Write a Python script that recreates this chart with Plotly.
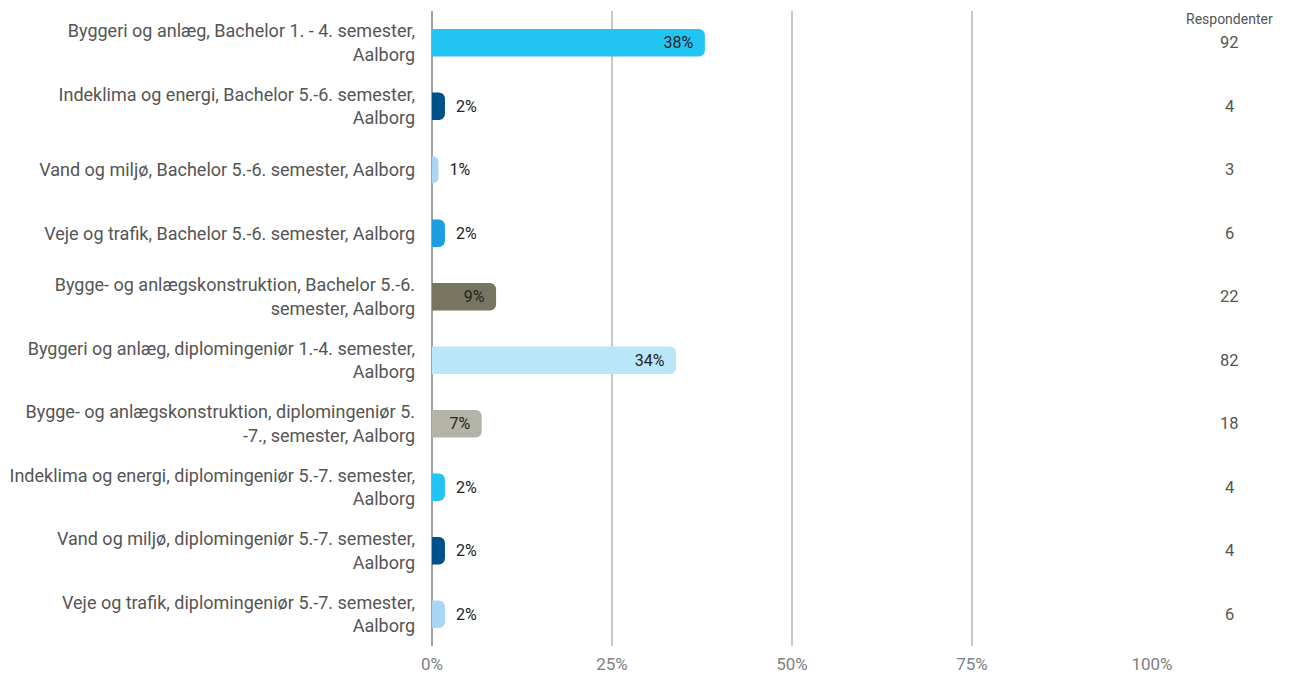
import plotly.graph_objects as go

categories = [
    "Byggeri og anlæg, Bachelor 1. - 4. semester,<br>Aalborg",
    "Indeklima og energi, Bachelor 5.-6. semester,<br>Aalborg",
    "Vand og miljø, Bachelor 5.-6. semester, Aalborg",
    "Veje og trafik, Bachelor 5.-6. semester, Aalborg",
    "Bygge- og anlægskonstruktion, Bachelor 5.-6.<br>semester, Aalborg",
    "Byggeri og anlæg, diplomingeniør 1.-4. semester,<br>Aalborg",
    "Bygge- og anlægskonstruktion, diplomingeniør 5.<br>-7., semester, Aalborg",
    "Indeklima og energi, diplomingeniør 5.-7. semester,<br>Aalborg",
    "Vand og miljø, diplomingeniør 5.-7. semester,<br>Aalborg",
    "Veje og trafik, diplomingeniør 5.-7. semester,<br>Aalborg",
]
values = [37.9, 1.8, 0.9, 1.8, 8.9, 33.9, 6.9, 1.8, 1.8, 1.8]
labels = ["38%", "2%", "1%", "2%", "9%", "34%", "7%", "2%", "2%", "2%"]
respondents = [92, 4, 3, 6, 22, 82, 18, 4, 4, 6]
colors = ["#22C4F4", "#00508A", "#AAD6F6", "#1AA0E2", "#77745F",
          "#BAE6FA", "#B4B4A6", "#22C4F4", "#00508A", "#AAD6F6"]
x_ticks = [0, 25, 50, 75, 100]
x_tick_labels = ["0%", "25%", "50%", "75%", "100%"]

NB = "\u00a0"
inside = [v >= 5 for v in values]
positions = ["inside" if i else "outside" for i in inside]
shown = [(t + NB * 2) if i else (NB * 2 + t) for t, i in zip(labels, inside)]

fig = go.Figure()
fig.add_trace(go.Bar(
    y=categories, x=values, orientation="h",
    marker=dict(color=colors, line=dict(width=0)),
    text=shown, textposition=positions, insidetextanchor="end",
    textfont=dict(family="Roboto", size=16, color="#222222"),
    outsidetextfont=dict(family="Roboto", size=16, color="#222222"),
    insidetextfont=dict(family="Roboto", size=16, color="#222222"),
    width=0.43, cliponaxis=False, hoverinfo="skip",
))

for cat, r in zip(categories, respondents):
    fig.add_annotation(x=1.108, xref="paper", y=cat, yref="y", text=str(r),
                       showarrow=False, xanchor="center",
                       font=dict(family="Roboto", size=16.5, color="#555555"))
fig.add_annotation(x=1.108, xref="paper", y=1.0, yref="paper", yshift=2,
                   text="Respondenter", showarrow=False, xanchor="center", yanchor="top",
                   font=dict(family="Roboto", size=14, color="#555555"))

fig.update_layout(
    width=1286, height=667,
    margin=dict(l=424, r=142, t=3, b=29),
    paper_bgcolor="white", plot_bgcolor="white",
    barcornerradius=6,
    showlegend=False,
    font=dict(family="Roboto", size=16, color="#555555"),
    xaxis=dict(range=[0, 100], tickvals=x_ticks, ticktext=x_tick_labels,
               showgrid=True, gridcolor="#C8C8C8", gridwidth=1.5,
               zeroline=True, zerolinecolor="#A0A0A0", zerolinewidth=2,
               ticklabelstandoff=6,
               tickfont=dict(family="Roboto", size=17, color="#808080"),
               automargin=False, fixedrange=True),
    yaxis=dict(autorange="reversed", showgrid=False, zeroline=False,
               ticklabelstandoff=16, automargin=False,
               tickfont=dict(family="Roboto", size=18, color="#555555")),
)

fig.write_html("out.html")
